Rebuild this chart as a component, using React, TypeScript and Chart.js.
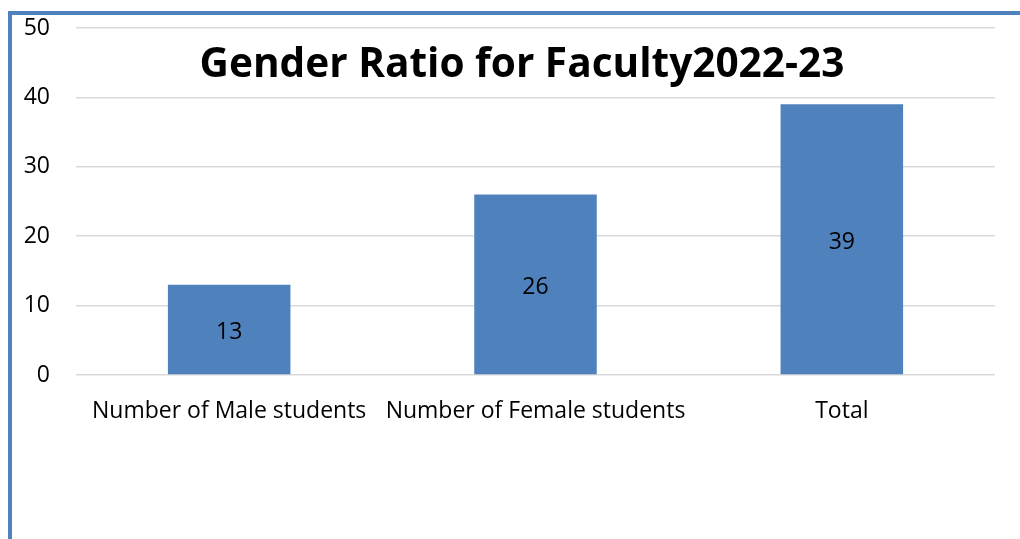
import React, { useEffect, useRef } from "react";
import { Chart, registerables } from "chart.js";

Chart.register(...registerables);

const categories = ["Number of Male students", "Number of Female students", "Total"];
const values = [13, 26, 39];
const yTicks = [0, 10, 20, 30, 40, 50];
const titleText = "Gender Ratio for Faculty2022-23";

const FONT = "'Open Sans', 'DejaVu Sans', sans-serif";
const BLUE = "#4F81BD";

const framePlugin = {
  id: "frame",
  beforeDraw(chart: any) {
    const ctx = chart.ctx;
    ctx.save();
    ctx.fillStyle = "#ffffff";
    ctx.fillRect(0, 0, chart.width, chart.height);
    ctx.fillStyle = BLUE;
    ctx.fillRect(8, 11, chart.width - 8, 4);
    ctx.fillRect(8, 11, 4, chart.height - 11);
    ctx.restore();
  },
};

const titlePlugin = {
  id: "overTitle",
  afterDraw(chart: any) {
    const ctx = chart.ctx;
    ctx.save();
    let size = 41;
    ctx.font = `bold ${size}px ${FONT}`;
    const w = ctx.measureText(titleText).width;
    const target = 645;
    if (w > target) {
      size = (size * target) / w;
      ctx.font = `bold ${size}px ${FONT}`;
    }
    ctx.fillStyle = "#000000";
    ctx.textAlign = "center";
    ctx.textBaseline = "middle";
    ctx.fillText(titleText, 522, 65);
    ctx.restore();
  },
};

const labelPlugin = {
  id: "barLabels",
  afterDatasetsDraw(chart: any) {
    const ctx = chart.ctx;
    const meta = chart.getDatasetMeta(0);
    ctx.save();
    ctx.font = `23px ${FONT}`;
    ctx.fillStyle = "#000000";
    ctx.textAlign = "center";
    ctx.textBaseline = "middle";
    meta.data.forEach((bar: any, i: number) => {
      const y = (bar.y + bar.base) / 2;
      ctx.fillText(String(values[i]), bar.x, y + 3);
    });
    ctx.restore();
  },
};

export default function App() {
  const ref = useRef<HTMLCanvasElement | null>(null);
  useEffect(() => {
    document.body.style.margin = "0";
    const chart = new Chart(ref.current as HTMLCanvasElement, {
      type: "bar",
      data: {
        labels: categories,
        datasets: [
          {
            data: values,
            backgroundColor: BLUE,
            borderWidth: 0,
            categoryPercentage: 1,
            barPercentage: 0.4,
          },
        ],
      },
      options: {
        animation: false,
        responsive: false,
        maintainAspectRatio: false,
        layout: { padding: { left: 0, right: 25, top: 28, bottom: 104 } },
        plugins: {
          legend: { display: false },
          title: { display: false },
          tooltip: { enabled: false },
        },
        scales: {
          x: {
            grid: { display: false, drawTicks: false },
            border: { display: false },
            ticks: {
              color: "#000000",
              padding: 23,
              font: { family: FONT, size: 23 },
              maxRotation: 0,
              autoSkip: false,
            },
            afterFit(scale: any) {
              scale.height = 60;
            },
          },
          y: {
            min: 0,
            max: 50,
            afterBuildTicks(scale: any) {
              scale.ticks = yTicks.map((v) => ({ value: v }));
            },
            grid: { color: "#d9d9d9", lineWidth: 1.5, drawTicks: false },
            border: { display: false },
            ticks: {
              color: "#000000",
              padding: 26,
              font: { family: FONT, size: 23 },
            },
            afterFit(scale: any) {
              scale.width = 76;
              scale.paddingTop = 0;
              scale.paddingBottom = 0;
            },
          },
        },
      },
      plugins: [framePlugin, titlePlugin, labelPlugin],
    });
    return () => chart.destroy();
  }, []);
  return (
    <div style={{ width: 1020, height: 539, position: "relative" }}>
      <canvas ref={ref} width={1020} height={539} style={{ display: "block" }} />
    </div>
  );
}
